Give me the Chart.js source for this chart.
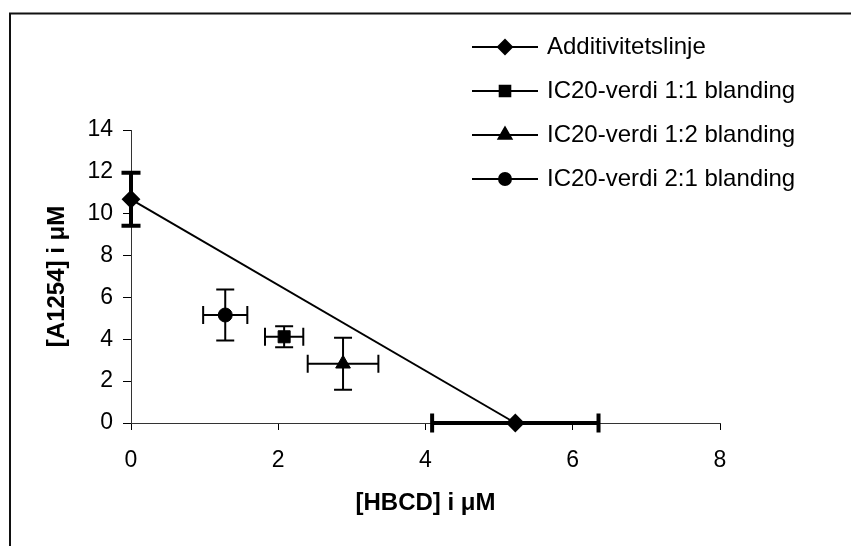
<!DOCTYPE html>
<html>
<head>
<meta charset="utf-8">
<script src="https://cdn.jsdelivr.net/npm/chart.js@4.4.1/dist/chart.umd.min.js"></script>
<style>
  html, body { margin: 0; padding: 0; background: #fff; }
  #wrap { width: 851px; height: 546px; }
</style>
</head>
<body>
<div id="wrap"><canvas id="grafica" width="851" height="546"></canvas></div>
<script>
// data
const serieNavn = ['Additivitetslinje', 'IC20-verdi 1:1 blanding', 'IC20-verdi 1:2 blanding', 'IC20-verdi 2:1 blanding'];

const addX = [0, 5.22];
const addY = [10.69, 0];
const addXFeil = [0, 1.13];
const addYFeil = [1.27, 0];

const blanding11X = [2.08];
const blanding11Y = [4.12];
const blanding11XFeil = [0.26];
const blanding11YFeil = [0.5];

const blanding12X = [2.88];
const blanding12Y = [2.83];
const blanding12XFeil = [0.48];
const blanding12YFeil = [1.24];

const blanding21X = [1.28];
const blanding21Y = [5.16];
const blanding21XFeil = [0.3];
const blanding21YFeil = [1.22];

const xTicks = [0, 2, 4, 6, 8];
const yTicks = [0, 2, 4, 6, 8, 10, 12, 14];

function punkter(xs, ys, xf, yf) {
    return xs.map((x, i) => ({ x: x, y: ys[i], xErr: xf[i], yErr: yf[i] }));
}

const FONT = "'Liberation Sans', Arial, sans-serif";

// error bars, drawn through the scales
const feilstolper = {
    id: 'feilstolper',
    afterDatasetsDraw(chart) {
        const ctx = chart.ctx;
        const xs = chart.scales.x;
        const ys = chart.scales.y;
        ctx.save();
        ctx.strokeStyle = '#000';
        chart.data.datasets.forEach(ds => {
            const lw = ds.feilBredde;
            const cap = ds.feilKapp;
            ctx.lineWidth = lw;
            ctx.lineCap = 'butt';
            ds.data.forEach(p => {
                const px = xs.getPixelForValue(p.x);
                const py = ys.getPixelForValue(p.y);
                if (p.yErr) {
                    const y1 = ys.getPixelForValue(p.y + p.yErr);
                    const y2 = ys.getPixelForValue(p.y - p.yErr);
                    ctx.beginPath();
                    ctx.moveTo(px, y1); ctx.lineTo(px, y2);
                    ctx.moveTo(px - cap, y1); ctx.lineTo(px + cap, y1);
                    ctx.moveTo(px - cap, y2); ctx.lineTo(px + cap, y2);
                    ctx.stroke();
                }
                if (p.xErr) {
                    const x1 = xs.getPixelForValue(p.x - p.xErr);
                    const x2 = xs.getPixelForValue(p.x + p.xErr);
                    ctx.beginPath();
                    ctx.moveTo(x1, py); ctx.lineTo(x2, py);
                    ctx.moveTo(x1, py - cap); ctx.lineTo(x1, py + cap);
                    ctx.moveTo(x2, py - cap); ctx.lineTo(x2, py + cap);
                    ctx.stroke();
                }
            });
        });
        ctx.restore();
    }
};

// frame lines + legend in the top right corner
const ramme = {
    id: 'ramme',
    afterDraw(chart) {
        const ctx = chart.ctx;
        ctx.save();
        ctx.strokeStyle = '#111';
        ctx.lineWidth = 2;
        ctx.beginPath();
        ctx.moveTo(10, 546); ctx.lineTo(10, 13.5); ctx.lineTo(851, 13.5);
        ctx.stroke();

        ctx.font = '24px ' + FONT;
        ctx.textBaseline = 'middle';
        ctx.fillStyle = '#000';
        chart.data.datasets.forEach((ds, i) => {
            const y = 47 + i * 44;
            ctx.strokeStyle = '#000';
            ctx.lineWidth = 2;
            ctx.beginPath();
            ctx.moveTo(472, y); ctx.lineTo(538, y);
            ctx.stroke();
            Chart.helpers.drawPoint(ctx, {
                pointStyle: ds.pointStyle,
                radius: ds.pointRadius - 1,
                rotation: 0,
                borderWidth: 1
            }, 505, y);
            ctx.fillText(ds.label, 547, y);
        });
        ctx.restore();
    }
};

const ctx = document.getElementById('grafica').getContext('2d');
const myChart = new Chart(ctx, {
    type: 'scatter',
    data: {
        datasets: [
            {
                label: serieNavn[0],
                data: punkter(addX, addY, addXFeil, addYFeil),
                showLine: true,
                borderColor: '#000',
                borderWidth: 2,
                pointStyle: 'rectRot',
                pointRadius: 8,
                backgroundColor: '#000',
                feilBredde: 4,
                feilKapp: 9.5,
                clip: false
            },
            {
                label: serieNavn[1],
                data: punkter(blanding11X, blanding11Y, blanding11XFeil, blanding11YFeil),
                borderColor: '#000',
                pointStyle: 'rect',
                pointRadius: 8.5,
                backgroundColor: '#000',
                feilBredde: 2,
                feilKapp: 9,
                clip: false
            },
            {
                label: serieNavn[2],
                data: punkter(blanding12X, blanding12Y, blanding12XFeil, blanding12YFeil),
                borderColor: '#000',
                pointStyle: 'triangle',
                pointRadius: 8.5,
                backgroundColor: '#000',
                feilBredde: 2,
                feilKapp: 9,
                clip: false
            },
            {
                label: serieNavn[3],
                data: punkter(blanding21X, blanding21Y, blanding21XFeil, blanding21YFeil),
                borderColor: '#000',
                pointStyle: 'circle',
                pointRadius: 7,
                backgroundColor: '#000',
                feilBredde: 2,
                feilKapp: 9,
                clip: false
            }
        ]
    },
    options: {
        responsive: false,
        animation: false,
        layout: { padding: { left: 43, top: 130, right: 131, bottom: 28 } },
        plugins: {
            legend: { display: false },
            tooltip: { enabled: false }
        },
        scales: {
            x: {
                type: 'linear',
                min: xTicks[0],
                max: xTicks[xTicks.length - 1],
                afterBuildTicks: s => { s.ticks = xTicks.map(v => ({ value: v })); },
                afterFit: s => { s.height = 95; },
                ticks: { color: '#000', font: { family: FONT, size: 23 }, padding: 17, maxRotation: 0 },
                grid: { drawOnChartArea: false, tickLength: 7, color: '#000' },
                border: { color: '#333', width: 1 },
                title: {
                    display: true,
                    text: '[HBCD] i μM',
                    color: '#000',
                    font: { family: FONT, size: 24, weight: 'bold' },
                    padding: { top: 0, bottom: 0 }
                }
            },
            y: {
                type: 'linear',
                min: yTicks[0],
                max: yTicks[yTicks.length - 1],
                afterBuildTicks: s => { s.ticks = yTicks.map(v => ({ value: v })); },
                afterFit: s => { s.width = 88; },
                ticks: { color: '#000', font: { family: FONT, size: 23 }, padding: 10 },
                grid: { drawOnChartArea: false, tickLength: 8, color: '#000' },
                border: { color: '#333', width: 1 },
                title: {
                    display: true,
                    text: '[A1254] i μM',
                    color: '#000',
                    font: { family: FONT, size: 24, weight: 'bold' },
                    padding: { top: 0, bottom: 0 }
                }
            }
        }
    },
    plugins: [feilstolper, ramme]
});
</script>
</body>
</html>
